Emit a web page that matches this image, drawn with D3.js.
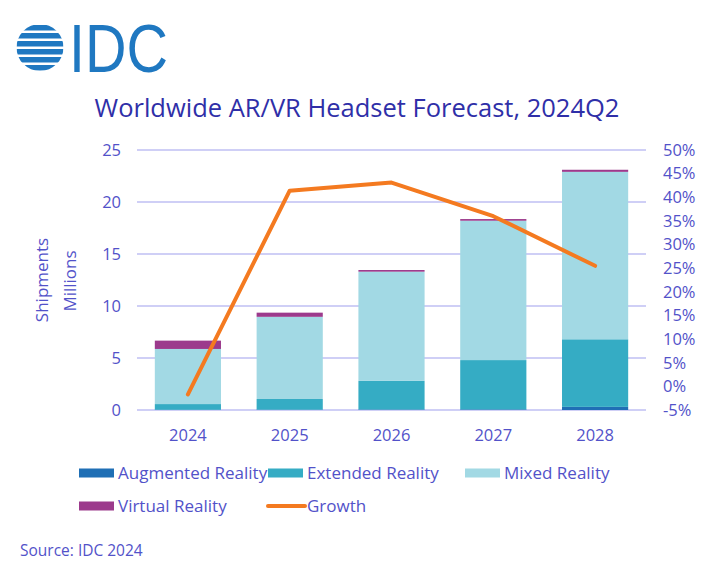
<!DOCTYPE html>
<html><head><meta charset="utf-8">
<script src="https://cdn.jsdelivr.net/npm/d3@7"></script>
<style>body{margin:0;background:#fff}svg{display:block;font-family:"Open Sans",sans-serif}</style>
</head><body><svg id="c" width="720" height="567"></svg>
<script>
const years = ["2024","2025","2026","2027","2028"];
const augmented = [0.02, 0.03, 0.05, 0.06, 0.3];
const extended  = [0.55, 1.03, 2.75, 4.74, 6.5];
const mixed     = [5.3, 7.9, 10.5, 13.4, 16.1];
const virtualR  = [0.8, 0.4, 0.16, 0.16, 0.2];
const growth    = [-1.7, 41.4, 43.1, 36.0, 25.5];
const leftTicks = [0,5,10,15,20,25];
const rightTicks = [-5,0,5,10,15,20,25,30,35,40,45,50];
const seriesNames = ["Augmented Reality","Extended Reality","Mixed Reality","Virtual Reality"];
const colors = ["#1f6fb5","#35acc4","#a2d9e4","#9c3a8c"];
const growthColor = "#f47a20";
const textColor = "#5252c9";

const svg = d3.select("#c");
const L = 137, R = 646, T = 150, B = 410;
const x = d3.scaleBand().domain(years).range([L,R]).paddingInner(0.35).paddingOuter(0.175);
const y = d3.scaleLinear().domain([0,25]).range([B,T]);
const y2 = d3.scaleLinear().domain([-5,50]).range([B,T]);

// logo
const logo = svg.append("g");
const cx=40, cy=47.5, r=23.5;
const defs = svg.append("defs");
defs.append("clipPath").attr("id","circ").append("circle").attr("cx",cx).attr("cy",cy).attr("r",r);
const sg = logo.append("g").attr("clip-path","url(#circ)");
[24,32,40,48,56,64].forEach(sy=>{
  sg.append("rect").attr("x",cx-r).attr("y",sy+1).attr("width",2*r).attr("height",5.5).attr("fill","#1f78c1");
});
logo.append("text").attr("x",69).attr("y",72).attr("font-family","Liberation Sans, Arial, sans-serif")
  .attr("font-size",69).attr("fill","#1f78c1").attr("textLength",99).attr("lengthAdjust","spacingAndGlyphs").text("IDC");

// title
svg.append("text").attr("x",357).attr("y",117).attr("text-anchor","middle").attr("font-size",25.5)
  .attr("fill","#2f2fa8").text("Worldwide AR/VR Headset Forecast, 2024Q2");

// grid
svg.append("g").selectAll("line").data(leftTicks).join("line")
  .attr("x1",L).attr("x2",R).attr("y1",d=>y(d)).attr("y2",d=>y(d))
  .attr("stroke","#cfcff6").attr("stroke-width",2);

// stacked bars
const table = years.map((yr,i)=>({year:yr, a:augmented[i], e:extended[i], m:mixed[i], v:virtualR[i]}));
const stack = d3.stack().keys(["a","e","m","v"])(table);
svg.append("g").selectAll("g").data(stack).join("g").attr("fill",(d,i)=>colors[i])
  .selectAll("rect").data(d=>d).join("rect")
  .attr("x",d=>x(d.data.year)).attr("width",x.bandwidth())
  .attr("y",d=>y(d[1])).attr("height",d=>y(d[0])-y(d[1]));

// growth line
svg.append("path").datum(growth)
  .attr("d", d3.line().x((d,i)=>x(years[i])+x.bandwidth()/2).y(d=>y2(d)))
  .attr("fill","none").attr("stroke",growthColor).attr("stroke-width",4).attr("stroke-linecap","round").attr("stroke-linejoin","round");

// axes
const ax = svg.append("g").attr("transform",`translate(0,${B})`).call(d3.axisBottom(x).tickSize(0).tickPadding(19));
const ayl = svg.append("g").attr("transform",`translate(${L-16},0)`).call(d3.axisLeft(y).tickValues(leftTicks).tickSize(0).tickPadding(0));
const ayr = svg.append("g").attr("transform",`translate(${R+17},0)`).call(d3.axisRight(y2).tickValues(rightTicks).tickSize(0).tickPadding(0).tickFormat(d=>d+"%"));
[ax,ayl,ayr].forEach(g=>{g.select(".domain").remove(); g.selectAll("text").attr("fill",textColor).attr("font-size",16.5).attr("font-family","Open Sans, sans-serif");});

// y title
svg.append("text").attr("transform","translate(48,280) rotate(-90)").attr("text-anchor","middle")
  .attr("font-size",17).attr("fill",textColor).text("Shipments");
svg.append("text").attr("transform","translate(76,281) rotate(-90)").attr("text-anchor","middle")
  .attr("font-size",17).attr("fill",textColor).text("Millions");

// legend
const legendItems = [
  {name:seriesNames[0], color:colors[0], x:79, y:473, type:"rect"},
  {name:seriesNames[1], color:colors[1], x:268, y:473, type:"rect"},
  {name:seriesNames[2], color:colors[2], x:465, y:473, type:"rect"},
  {name:seriesNames[3], color:colors[3], x:79, y:506, type:"rect"},
  {name:"Growth", color:growthColor, x:268, y:506, type:"line"}
];
const lg = svg.append("g").selectAll("g").data(legendItems).join("g");
lg.each(function(d){
  const g = d3.select(this);
  if(d.type==="rect") g.append("rect").attr("x",d.x).attr("y",d.y-4.5).attr("width",35).attr("height",9).attr("fill",d.color);
  else g.append("line").attr("x1",d.x).attr("x2",d.x+37).attr("y1",d.y).attr("y2",d.y).attr("stroke",d.color).attr("stroke-width",4).attr("stroke-linecap","round");
  g.append("text").attr("x",d.x+39).attr("y",d.y+6).attr("font-size",17).attr("fill",textColor).text(d.name);
});

// source
svg.append("text").attr("x",20).attr("y",556).attr("font-size",15.5).attr("fill",textColor).text("Source: IDC 2024");
</script></body></html>
